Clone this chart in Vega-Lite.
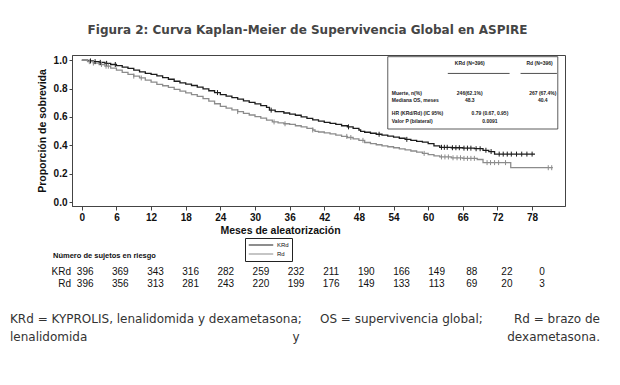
{
  "$schema": "https://vega.github.io/schema/vega-lite/v6.json",
  "background": "white",
  "padding": {"left": 10, "top": 23, "right": 5, "bottom": 5},
  "autosize": {"type": "pad"},
  "bounds": "flush",
  "spacing": 0,
  "config": {
    "view": {"stroke": null},
    "axis": {"grid": false, "labelOverlap": false, "domainColor": "#444", "tickColor": "#444", "labelColor": "#111", "titleColor": "#111", "labelFont": "Liberation Sans", "labelFontWeight": "bold", "labelFontSize": 10, "titleFont": "Liberation Sans", "titleFontWeight": "bold", "titleFontSize": 10.5}
  },
  "datasets": {
    "curves": [
      {"arm":"KRd","t":0,"s":1.0},{"arm":"KRd","t":1,"s":0.995},{"arm":"KRd","t":2,"s":0.99},{"arm":"KRd","t":3,"s":0.985},{"arm":"KRd","t":4,"s":0.978},{"arm":"KRd","t":5,"s":0.97},{"arm":"KRd","t":6,"s":0.962},{"arm":"KRd","t":7,"s":0.952},{"arm":"KRd","t":8,"s":0.942},{"arm":"KRd","t":9,"s":0.93},{"arm":"KRd","t":10,"s":0.918},{"arm":"KRd","t":11,"s":0.908},{"arm":"KRd","t":12,"s":0.9},{"arm":"KRd","t":13,"s":0.89},{"arm":"KRd","t":14,"s":0.878},{"arm":"KRd","t":15,"s":0.866},{"arm":"KRd","t":16,"s":0.852},{"arm":"KRd","t":17,"s":0.84},{"arm":"KRd","t":18,"s":0.832},{"arm":"KRd","t":19,"s":0.822},{"arm":"KRd","t":20,"s":0.81},{"arm":"KRd","t":21,"s":0.798},{"arm":"KRd","t":22,"s":0.785},{"arm":"KRd","t":23,"s":0.772},{"arm":"KRd","t":24,"s":0.758},{"arm":"KRd","t":25,"s":0.747},{"arm":"KRd","t":26,"s":0.736},{"arm":"KRd","t":27,"s":0.726},{"arm":"KRd","t":28,"s":0.714},{"arm":"KRd","t":29,"s":0.703},{"arm":"KRd","t":30,"s":0.692},{"arm":"KRd","t":31,"s":0.68},{"arm":"KRd","t":32,"s":0.668},{"arm":"KRd","t":32.5,"s":0.648},{"arm":"KRd","t":33.5,"s":0.638},{"arm":"KRd","t":35,"s":0.628},{"arm":"KRd","t":36,"s":0.62},{"arm":"KRd","t":37,"s":0.612},{"arm":"KRd","t":38,"s":0.6},{"arm":"KRd","t":39,"s":0.59},{"arm":"KRd","t":40,"s":0.58},{"arm":"KRd","t":41,"s":0.57},{"arm":"KRd","t":42,"s":0.562},{"arm":"KRd","t":43,"s":0.555},{"arm":"KRd","t":44,"s":0.547},{"arm":"KRd","t":45,"s":0.538},{"arm":"KRd","t":46,"s":0.53},{"arm":"KRd","t":47,"s":0.52},{"arm":"KRd","t":48,"s":0.508},{"arm":"KRd","t":48.3,"s":0.498},{"arm":"KRd","t":49,"s":0.492},{"arm":"KRd","t":50,"s":0.485},{"arm":"KRd","t":51,"s":0.478},{"arm":"KRd","t":52,"s":0.472},{"arm":"KRd","t":53,"s":0.465},{"arm":"KRd","t":54,"s":0.458},{"arm":"KRd","t":55,"s":0.45},{"arm":"KRd","t":56,"s":0.442},{"arm":"KRd","t":57,"s":0.435},{"arm":"KRd","t":58,"s":0.428},{"arm":"KRd","t":59,"s":0.422},{"arm":"KRd","t":60,"s":0.412},{"arm":"KRd","t":61,"s":0.396},{"arm":"KRd","t":62,"s":0.386},{"arm":"KRd","t":64,"s":0.383},{"arm":"KRd","t":66,"s":0.38},{"arm":"KRd","t":68,"s":0.376},{"arm":"KRd","t":69.5,"s":0.365},{"arm":"KRd","t":70.5,"s":0.356},{"arm":"KRd","t":71.5,"s":0.338},{"arm":"KRd","t":78.5,"s":0.338},
      {"arm":"Rd","t":0,"s":1.0},{"arm":"Rd","t":1,"s":0.99},{"arm":"Rd","t":2,"s":0.98},{"arm":"Rd","t":3,"s":0.97},{"arm":"Rd","t":4,"s":0.958},{"arm":"Rd","t":5,"s":0.944},{"arm":"Rd","t":6,"s":0.93},{"arm":"Rd","t":7,"s":0.915},{"arm":"Rd","t":8,"s":0.9},{"arm":"Rd","t":9,"s":0.888},{"arm":"Rd","t":10,"s":0.875},{"arm":"Rd","t":11,"s":0.86},{"arm":"Rd","t":12,"s":0.845},{"arm":"Rd","t":13,"s":0.83},{"arm":"Rd","t":14,"s":0.82},{"arm":"Rd","t":15,"s":0.808},{"arm":"Rd","t":16,"s":0.795},{"arm":"Rd","t":17,"s":0.782},{"arm":"Rd","t":18,"s":0.77},{"arm":"Rd","t":19,"s":0.758},{"arm":"Rd","t":20,"s":0.745},{"arm":"Rd","t":21,"s":0.73},{"arm":"Rd","t":22,"s":0.712},{"arm":"Rd","t":23,"s":0.693},{"arm":"Rd","t":24,"s":0.675},{"arm":"Rd","t":25,"s":0.662},{"arm":"Rd","t":26,"s":0.65},{"arm":"Rd","t":27,"s":0.638},{"arm":"Rd","t":28,"s":0.625},{"arm":"Rd","t":29,"s":0.614},{"arm":"Rd","t":30,"s":0.603},{"arm":"Rd","t":31,"s":0.592},{"arm":"Rd","t":32,"s":0.578},{"arm":"Rd","t":33,"s":0.565},{"arm":"Rd","t":34,"s":0.558},{"arm":"Rd","t":35,"s":0.552},{"arm":"Rd","t":36,"s":0.547},{"arm":"Rd","t":37,"s":0.538},{"arm":"Rd","t":38,"s":0.53},{"arm":"Rd","t":39,"s":0.52},{"arm":"Rd","t":40,"s":0.508},{"arm":"Rd","t":40.4,"s":0.498},{"arm":"Rd","t":41,"s":0.494},{"arm":"Rd","t":42,"s":0.488},{"arm":"Rd","t":43,"s":0.48},{"arm":"Rd","t":44,"s":0.472},{"arm":"Rd","t":45,"s":0.463},{"arm":"Rd","t":46,"s":0.455},{"arm":"Rd","t":47,"s":0.445},{"arm":"Rd","t":48,"s":0.435},{"arm":"Rd","t":49,"s":0.42},{"arm":"Rd","t":50,"s":0.412},{"arm":"Rd","t":51,"s":0.404},{"arm":"Rd","t":52,"s":0.396},{"arm":"Rd","t":53,"s":0.39},{"arm":"Rd","t":54,"s":0.383},{"arm":"Rd","t":55,"s":0.375},{"arm":"Rd","t":56,"s":0.368},{"arm":"Rd","t":57,"s":0.36},{"arm":"Rd","t":58,"s":0.352},{"arm":"Rd","t":59,"s":0.343},{"arm":"Rd","t":60,"s":0.335},{"arm":"Rd","t":61,"s":0.326},{"arm":"Rd","t":62,"s":0.318},{"arm":"Rd","t":64,"s":0.312},{"arm":"Rd","t":66,"s":0.308},{"arm":"Rd","t":68.5,"s":0.3},{"arm":"Rd","t":69.5,"s":0.278},{"arm":"Rd","t":74.3,"s":0.242},{"arm":"Rd","t":81.6,"s":0.242}
    ],
    "censor": [
      {"arm":"KRd","t":1.5,"s":0.995},{"arm":"KRd","t":2.3,"s":0.99},{"arm":"KRd","t":3.2,"s":0.985},{"arm":"KRd","t":4.3,"s":0.978},{"arm":"KRd","t":5.8,"s":0.97},{"arm":"KRd","t":23.5,"s":0.772},{"arm":"KRd","t":32.8,"s":0.648},{"arm":"KRd","t":46.2,"s":0.53},{"arm":"KRd","t":51.5,"s":0.478},{"arm":"KRd","t":56.3,"s":0.442},{"arm":"KRd","t":62.3,"s":0.386},{"arm":"KRd","t":62.8,"s":0.386},{"arm":"KRd","t":63.3,"s":0.386},{"arm":"KRd","t":64.2,"s":0.383},{"arm":"KRd","t":64.8,"s":0.383},{"arm":"KRd","t":65.4,"s":0.383},{"arm":"KRd","t":66.2,"s":0.38},{"arm":"KRd","t":66.8,"s":0.38},{"arm":"KRd","t":67.4,"s":0.38},{"arm":"KRd","t":68.3,"s":0.376},{"arm":"KRd","t":69.0,"s":0.376},{"arm":"KRd","t":70.0,"s":0.365},{"arm":"KRd","t":70.9,"s":0.356},{"arm":"KRd","t":72.3,"s":0.338},{"arm":"KRd","t":73.0,"s":0.338},{"arm":"KRd","t":73.7,"s":0.338},{"arm":"KRd","t":74.4,"s":0.338},{"arm":"KRd","t":75.3,"s":0.338},{"arm":"KRd","t":76.2,"s":0.338},{"arm":"KRd","t":77.1,"s":0.338},{"arm":"KRd","t":78.0,"s":0.338},
      {"arm":"Rd","t":1.3,"s":0.99},{"arm":"Rd","t":2.0,"s":0.98},{"arm":"Rd","t":3.4,"s":0.97},{"arm":"Rd","t":4.2,"s":0.958},{"arm":"Rd","t":4.6,"s":0.958},{"arm":"Rd","t":9.0,"s":0.888},{"arm":"Rd","t":10.3,"s":0.875},{"arm":"Rd","t":27.0,"s":0.638},{"arm":"Rd","t":33.3,"s":0.565},{"arm":"Rd","t":35.2,"s":0.552},{"arm":"Rd","t":40.0,"s":0.508},{"arm":"Rd","t":45.9,"s":0.463},{"arm":"Rd","t":46.6,"s":0.455},{"arm":"Rd","t":48.7,"s":0.435},{"arm":"Rd","t":59.3,"s":0.343},{"arm":"Rd","t":62.3,"s":0.318},{"arm":"Rd","t":62.9,"s":0.318},{"arm":"Rd","t":63.5,"s":0.318},{"arm":"Rd","t":64.3,"s":0.312},{"arm":"Rd","t":65.0,"s":0.312},{"arm":"Rd","t":65.6,"s":0.312},{"arm":"Rd","t":66.2,"s":0.308},{"arm":"Rd","t":66.8,"s":0.308},{"arm":"Rd","t":67.4,"s":0.308},{"arm":"Rd","t":68.0,"s":0.308},{"arm":"Rd","t":70.2,"s":0.278},{"arm":"Rd","t":70.8,"s":0.278},{"arm":"Rd","t":71.5,"s":0.278},{"arm":"Rd","t":72.2,"s":0.278},{"arm":"Rd","t":73.4,"s":0.278},{"arm":"Rd","t":80.8,"s":0.242},{"arm":"Rd","t":81.4,"s":0.242}
    ],
    "insetLeft": [
      {"txt":"Muerte, n(%)","t":53.7,"s":0.771},
      {"txt":"Mediana OS, meses","t":53.7,"s":0.718},
      {"txt":"HR (KRd/Rd) (IC 95%)","t":53.7,"s":0.626},
      {"txt":"Valor P (bilateral)","t":53.7,"s":0.572}
    ],
    "insetCenter": [
      {"txt":"KRd (N=396)","t":67.2,"s":0.981},
      {"txt":"Rd (N=396)","t":79.3,"s":0.981},
      {"txt":"246(62.1%)","t":67.2,"s":0.771},
      {"txt":"267 (67.4%)","t":79.85,"s":0.771},
      {"txt":"48.3","t":67.2,"s":0.718},
      {"txt":"40.4","t":79.85,"s":0.718},
      {"txt":"0.79 (0.67, 0.95)","t":70.7,"s":0.626},
      {"txt":"0.0091","t":70.7,"s":0.572}
    ],
    "insetRules": [
      {"t1":63.4,"t2":74.1,"s":0.907},
      {"t1":76.0,"t2":82.3,"s":0.907}
    ],
    "risk": [
      {"arm":"KRd","t":0,"n":396},{"arm":"KRd","t":6,"n":369},{"arm":"KRd","t":12,"n":343},{"arm":"KRd","t":18,"n":316},{"arm":"KRd","t":24,"n":282},{"arm":"KRd","t":30,"n":259},{"arm":"KRd","t":36,"n":232},{"arm":"KRd","t":42,"n":211},{"arm":"KRd","t":48,"n":190},{"arm":"KRd","t":54,"n":166},{"arm":"KRd","t":60,"n":149},{"arm":"KRd","t":66,"n":88},{"arm":"KRd","t":72,"n":22},{"arm":"KRd","t":78,"n":0},
      {"arm":"Rd","t":0,"n":396},{"arm":"Rd","t":6,"n":356},{"arm":"Rd","t":12,"n":313},{"arm":"Rd","t":18,"n":281},{"arm":"Rd","t":24,"n":243},{"arm":"Rd","t":30,"n":220},{"arm":"Rd","t":36,"n":199},{"arm":"Rd","t":42,"n":176},{"arm":"Rd","t":48,"n":149},{"arm":"Rd","t":54,"n":133},{"arm":"Rd","t":60,"n":113},{"arm":"Rd","t":66,"n":69},{"arm":"Rd","t":72,"n":20},{"arm":"Rd","t":78,"n":3}
    ]
  },
  "vconcat": [
    {
      "width": 493,
      "height": 151,
      "title": {"text": "Figura 2: Curva Kaplan-Meier de Supervivencia Global en ASPIRE", "font": "DejaVu Sans", "fontSize": 12, "fontWeight": "bold", "color": "#454545", "anchor": "middle", "frame": "group", "dx": -11, "offset": 9, "baseline": "alphabetic"},
      "view": {"stroke": "#444", "strokeWidth": 1},
      "layer": [
        {
          "data": {"name": "curves"},
          "mark": {"type": "line", "interpolate": "step-after", "strokeWidth": 1.3},
          "encoding": {
            "x": {"field": "t", "type": "quantitative", "title": "Meses de aleatorización", "scale": {"domain": [-1.7, 83.7], "nice": false, "zero": false},
                  "axis": {"values": [0,6,12,18,24,30,36,42,48,54,60,66,72,78], "tickCount": 30, "labelOverlap": false, "labelBound": false, "tickSize": 4, "labelPadding": 2, "labelFlush": false, "titleX": 208, "titleY": 27, "titleBaseline": "alphabetic", "titleAlign": "center", "titleAnchor": null}},
            "y": {"field": "s", "type": "quantitative", "title": "Proporción de sobrevida", "scale": {"domain": [-0.028, 1.037], "nice": false, "zero": false},
                  "axis": {"values": [0,0.2,0.4,0.6,0.8,1.0], "tickCount": 12, "labelOverlap": false, "labelBound": false, "format": ".1f", "tickSize": 3, "labelPadding": 2, "titlePadding": 6}},
            "color": {"field": "arm", "type": "nominal", "scale": {"domain": ["KRd", "Rd"], "range": ["#1c1c1c", "#8c8c8c"]},
                      "legend": {"orient": "none", "legendX": 173, "legendY": 183, "title": null, "symbolType": "stroke", "symbolSize": 600, "symbolStrokeWidth": 1.2, "clipHeight": 8, "labelFont": "Liberation Sans", "labelFontSize": 6, "labelColor": "#111", "strokeColor": "#222", "padding": 3, "rowPadding": 1, "labelOffset": 3}}
          }
        },
        {
          "data": {"name": "censor"},
          "mark": {"type": "point", "shape": "M0,-1L0,1", "size": 25, "strokeWidth": 1, "filled": false, "opacity": 1},
          "encoding": {
            "x": {"field": "t", "type": "quantitative", "title": "Meses de aleatorización", "axis": {"values": [0,6,12,18,24,30,36,42,48,54,60,66,72,78], "tickCount": 30, "labelOverlap": false, "labelBound": false, "tickSize": 4, "labelPadding": 2, "labelFlush": false, "titleX": 208, "titleY": 27, "titleBaseline": "alphabetic", "titleAlign": "center", "titleAnchor": null}},
            "y": {"field": "s", "type": "quantitative", "title": "Proporción de sobrevida", "axis": {"values": [0,0.2,0.4,0.6,0.8,1.0], "tickCount": 12, "labelOverlap": false, "labelBound": false, "format": ".1f", "tickSize": 3, "labelPadding": 2, "titlePadding": 6}},
            "color": {"field": "arm", "type": "nominal", "legend": null}
          }
        },
        {
          "data": {"values": [{}]},
          "mark": {"type": "rect", "fill": "white", "stroke": "#333", "strokeWidth": 0.8},
          "encoding": {
            "x": {"datum": 53.0, "type": "quantitative"},
            "x2": {"datum": 82.45},
            "y": {"datum": 1.025, "type": "quantitative"},
            "y2": {"datum": 0.515}
          }
        },
        {
          "data": {"name": "insetRules"},
          "mark": {"type": "rule", "stroke": "#222", "strokeWidth": 0.8},
          "encoding": {
            "x": {"field": "t1", "type": "quantitative"},
            "x2": {"field": "t2"},
            "y": {"field": "s", "type": "quantitative"}
          }
        },
        {
          "data": {"name": "insetLeft"},
          "mark": {"type": "text", "align": "left", "baseline": "middle", "font": "Liberation Sans", "fontSize": 5, "fontWeight": "bold", "color": "#222"},
          "encoding": {
            "x": {"field": "t", "type": "quantitative"},
            "y": {"field": "s", "type": "quantitative"},
            "text": {"field": "txt"}
          }
        },
        {
          "data": {"name": "insetCenter"},
          "mark": {"type": "text", "align": "center", "baseline": "middle", "font": "Liberation Sans", "fontSize": 5, "fontWeight": "bold", "color": "#222"},
          "encoding": {
            "x": {"field": "t", "type": "quantitative"},
            "y": {"field": "s", "type": "quantitative"},
            "text": {"field": "txt"}
          }
        }
      ]
    },
    {
      "width": 493,
      "height": 78,
      "layer": [
        {
          "data": {"name": "risk"},
          "mark": {"type": "text", "align": "center", "baseline": "middle", "font": "Liberation Sans", "fontSize": 10, "color": "#111"},
          "encoding": {
            "x": {"field": "t", "type": "quantitative", "scale": {"domain": [-2.254, 81.92], "nice": false, "zero": false}, "axis": null},
            "y": {"field": "arm", "type": "nominal", "scale": {"type": "point", "domain": ["hdr", "KRd", "Rd"], "range": [54, 78], "padding": 0}, "axis": null},
            "text": {"field": "n", "type": "quantitative"}
          }
        },
        {
          "data": {"values": [{"arm": "KRd"}, {"arm": "Rd"}]},
          "mark": {"type": "text", "align": "right", "baseline": "middle", "font": "Liberation Sans", "fontSize": 10, "color": "#111"},
          "encoding": {
            "x": {"datum": -2.42, "type": "quantitative"},
            "y": {"field": "arm", "type": "nominal"},
            "text": {"field": "arm"}
          }
        },
        {
          "data": {"values": [{"label": "Número de sujetos en riesgo"}]},
          "mark": {"type": "text", "align": "left", "baseline": "middle", "font": "Liberation Sans", "fontSize": 7.5, "fontWeight": "bold", "color": "#111", "dy": -4},
          "encoding": {
            "x": {"datum": -5.5, "type": "quantitative"},
            "y": {"datum": "hdr", "type": "nominal"},
            "text": {"field": "label"}
          }
        }
      ]
    },
    {
      "width": 493,
      "height": 53,
      "layer": [
        {
          "data": {"values": [{"line": "f1", "text": "KRd = KYPROLIS, lenalidomida y dexametasona;"}, {"line": "f2", "text": "lenalidomida"}]},
          "mark": {"type": "text", "align": "left", "baseline": "middle", "font": "DejaVu Sans", "fontSize": 12, "color": "#333"},
          "encoding": {
            "x": {"datum": 0, "type": "quantitative", "scale": {"domain": [0.10508, 0.9407], "nice": false, "zero": false}, "axis": null},
            "y": {"field": "line", "type": "nominal", "scale": {"type": "point", "domain": ["f1", "f2"], "range": [35, 53], "padding": 0}, "axis": null},
            "text": {"field": "text"}
          }
        },
        {
          "data": {"values": [{"line": "f1", "text": "OS = supervivencia global;"}]},
          "mark": {"type": "text", "align": "left", "baseline": "middle", "font": "DejaVu Sans", "fontSize": 12, "color": "#333"},
          "encoding": {
            "x": {"datum": 0.5254, "type": "quantitative"},
            "y": {"field": "line", "type": "nominal"},
            "text": {"field": "text"}
          }
        },
        {
          "data": {"values": [{"line": "f2", "text": "y"}]},
          "mark": {"type": "text", "align": "center", "baseline": "middle", "font": "DejaVu Sans", "fontSize": 12, "color": "#333"},
          "encoding": {
            "x": {"datum": 0.485, "type": "quantitative"},
            "y": {"field": "line", "type": "nominal"},
            "text": {"field": "text"}
          }
        },
        {
          "data": {"values": [{"line": "f1", "text": "Rd = brazo de"}, {"line": "f2", "text": "dexametasona."}]},
          "mark": {"type": "text", "align": "right", "baseline": "middle", "font": "DejaVu Sans", "fontSize": 12, "color": "#333"},
          "encoding": {
            "x": {"datum": 1, "type": "quantitative"},
            "y": {"field": "line", "type": "nominal"},
            "text": {"field": "text"}
          }
        }
      ]
    }
  ]
}
